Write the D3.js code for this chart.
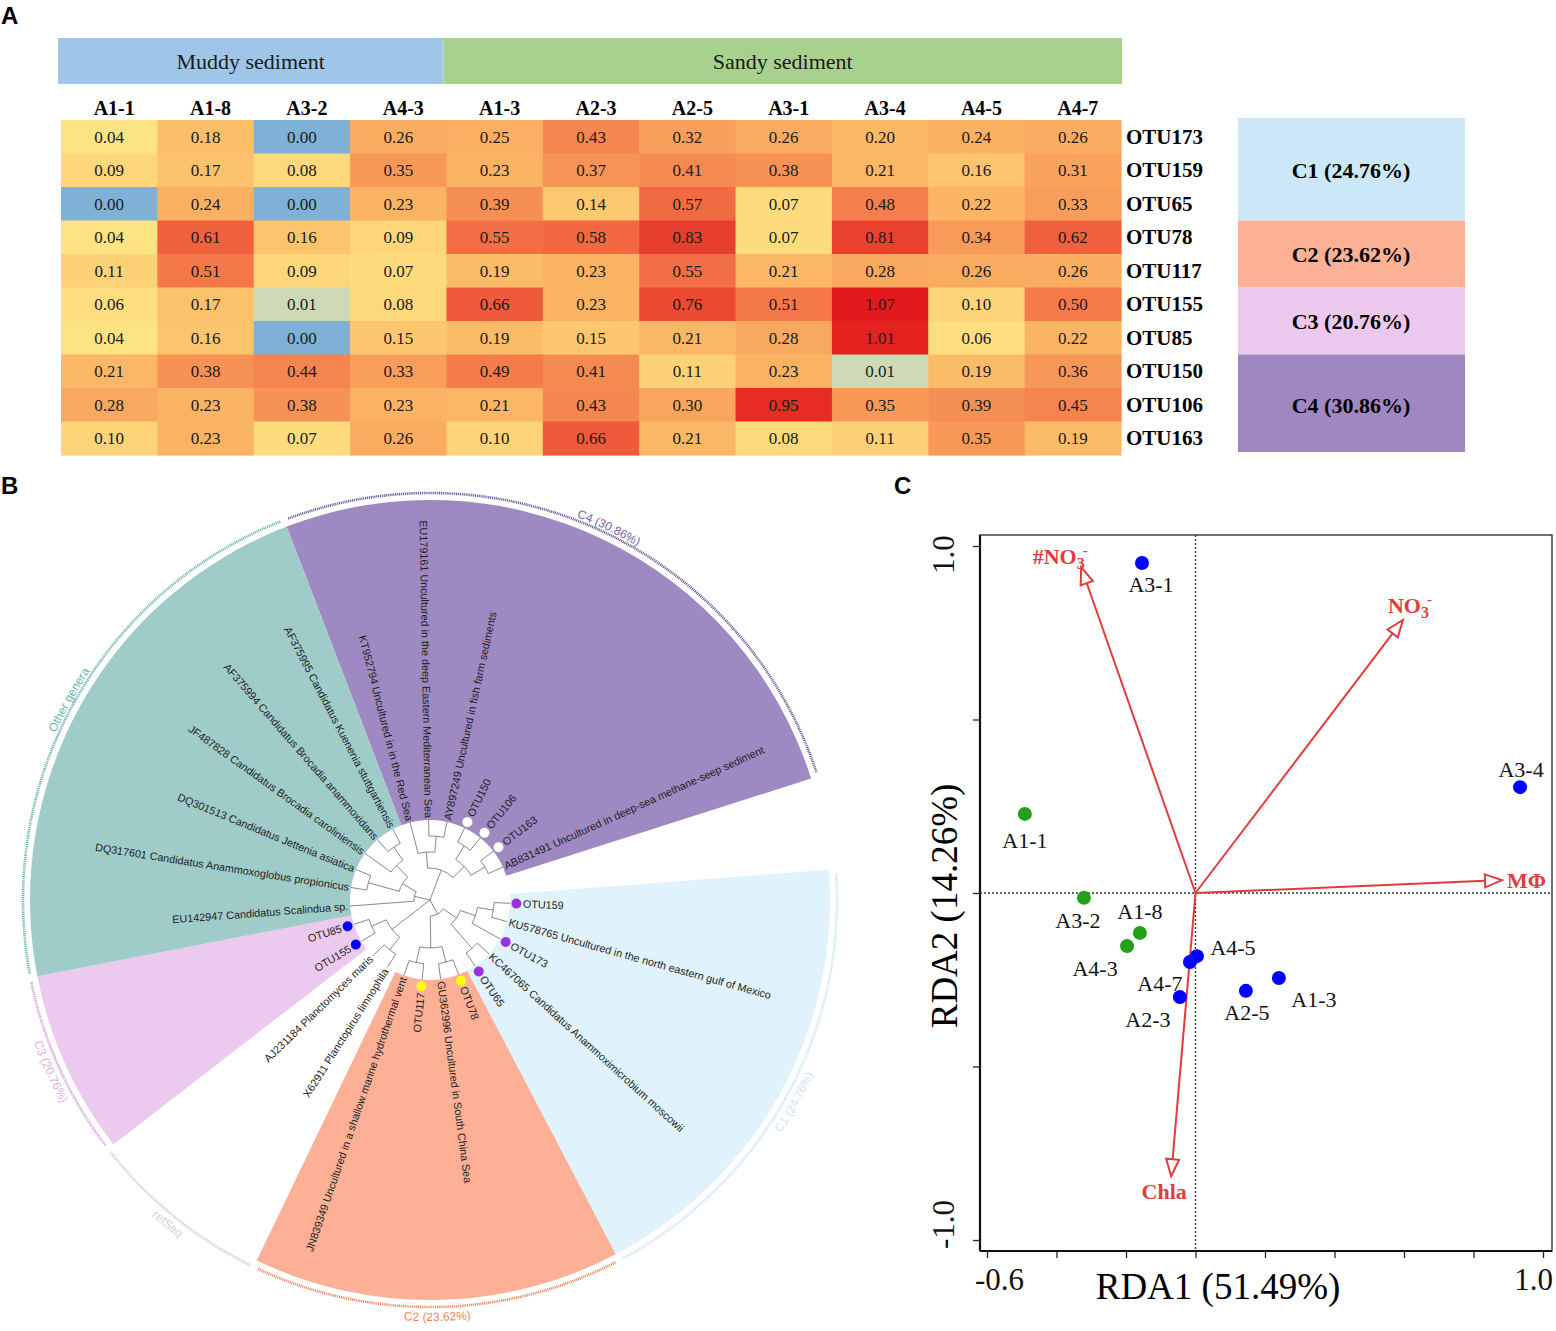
<!DOCTYPE html>
<html>
<head>
<meta charset="utf-8">
<script src="https://cdn.jsdelivr.net/npm/d3@7"></script>
<style>
  body { margin: 0; background: #fff; }
  svg { display: block; }
</style>
</head>
<body>
<svg id="fig" width="1556" height="1331"></svg>
<script>
// ---------- panel A : heatmap ----------
let muddy = ["A1-1", "A1-8", "A3-2", "A4-3"];
let sandy = ["A1-3", "A2-3", "A2-5", "A3-1", "A3-4", "A4-5", "A4-7"];
let samples = muddy.concat(sandy);
let otus = ["OTU173", "OTU159", "OTU65", "OTU78", "OTU117", "OTU155", "OTU85", "OTU150", "OTU106", "OTU163"];
let abundance = [
  [0.04, 0.18, 0.00, 0.26, 0.25, 0.43, 0.32, 0.26, 0.20, 0.24, 0.26],
  [0.09, 0.17, 0.08, 0.35, 0.23, 0.37, 0.41, 0.38, 0.21, 0.16, 0.31],
  [0.00, 0.24, 0.00, 0.23, 0.39, 0.14, 0.57, 0.07, 0.48, 0.22, 0.33],
  [0.04, 0.61, 0.16, 0.09, 0.55, 0.58, 0.83, 0.07, 0.81, 0.34, 0.62],
  [0.11, 0.51, 0.09, 0.07, 0.19, 0.23, 0.55, 0.21, 0.28, 0.26, 0.26],
  [0.06, 0.17, 0.01, 0.08, 0.66, 0.23, 0.76, 0.51, 1.07, 0.10, 0.50],
  [0.04, 0.16, 0.00, 0.15, 0.19, 0.15, 0.21, 0.28, 1.01, 0.06, 0.22],
  [0.21, 0.38, 0.44, 0.33, 0.49, 0.41, 0.11, 0.23, 0.01, 0.19, 0.36],
  [0.28, 0.23, 0.38, 0.23, 0.21, 0.43, 0.30, 0.95, 0.35, 0.39, 0.45],
  [0.10, 0.23, 0.07, 0.26, 0.10, 0.66, 0.21, 0.08, 0.11, 0.35, 0.19]
];
let otuCluster = ["C1", "C1", "C1", "C2", "C2", "C3", "C3", "C4", "C4", "C4"];
let clusterNames = ["C1", "C2", "C3", "C4"];
let clusterPct = ["24.76", "23.62", "20.76", "30.86"];

// ---------- panel B : tree ----------
let KT = "KT952794 Uncultured in in the Red Sea";
let EU1 = "EU179161 Uncultured in the deep Eastern Mediterranean Sea";
let AY = "AY897249 Uncultured in fish farm sediments";
let AB = "AB831491 Uncultured in deep-sea methane-seep sediment";
let KU = "KU578765 Uncultured in the north eastern gulf of Mexico";
let KC = "KC467065 Candidatus Anammoximicrobium moscowii";
let GU = "GU362996 Uncultured in South China Sea";
let JN = "JN839349 Uncultured in a shallow marine hydrothermal vent";
let X6 = "X62911 Planctopirus limnophila";
let AJ = "AJ231184 Planctomyces maris";
let EU2 = "EU142947 Candidatus Scalindua sp.";
let DQ1 = "DQ317601 Candidatus Anammoxoglobus propionicus";
let DQ2 = "DQ301513 Candidatus Jettenia asiatica";
let JF = "JF487828 Candidatus Brocadia caroliniensis";
let AF4 = "AF375994 Candidatus Brocadia anammoxidans";
let AF5 = "AF375995 Candidatus Kuenenia stuttgartiensis";

let tree = [
  [[KT, [EU1, AY]], [["OTU150", "OTU106"], ["OTU163", AB]]],
  [[[["OTU159", KU], "OTU173"], [KC, "OTU65"]], [["OTU78", GU], ["OTU117", JN]]],
  [[X6, AJ], ["OTU155", "OTU85"]],
  [EU2, [[DQ1, DQ2], [JF, [AF4, AF5]]]]
];
let gapBetween = ["AB831491", "OTU159"];

let groupNames = ["C4 (30.86%)", "C1 (24.76%)", "C2 (23.62%)", "refSeq", "C3 (20.76%)", "Other genera"];
let groupMembers = [
  ["KT952794", "EU179161", "AY897249", "OTU150", "OTU106", "OTU163", "AB831491"],
  ["OTU159", "KU578765", "OTU173", "KC467065", "OTU65"],
  ["OTU78", "GU362996", "OTU117", "JN839349"],
  ["X62911", "AJ231184"],
  ["OTU155", "OTU85"],
  ["EU142947", "DQ317601", "DQ301513", "JF487828", "AF375994", "AF375995"]
];
let otuDot = {
  OTU150: "#ffffff", OTU106: "#ffffff", OTU163: "#ffffff",
  OTU159: "#9b30e3", OTU173: "#9b30e3", OTU65: "#9b30e3",
  OTU78: "#ffff00", OTU117: "#ffff00",
  OTU85: "#0000ff", OTU155: "#0000ff"
};

// ---------- panel C : RDA ----------
let sites = ["A1-1", "A1-8", "A3-2", "A4-3", "A1-3", "A2-3", "A2-5", "A3-1", "A3-4", "A4-5", "A4-7"];
let rda1 = [-0.491, -0.160, -0.321, -0.197, 0.240, -0.045, 0.145, -0.154, 0.934, 0.004, -0.016];
let rda2 = [0.228, -0.115, -0.014, -0.153, -0.245, -0.300, -0.282, 0.951, 0.305, -0.182, -0.199];
let envVars = ["#NO3-", "NO3-", "MΦ", "Chla"];
let envX = [-0.329, 0.597, 0.882, -0.070];
let envY = [0.939, 0.787, 0.037, -0.816];
let xTicks = [-0.6, -0.4, -0.2, 0, 0.2, 0.4, 0.6, 0.8, 1.0];
let yTicks = [-1.0, -0.5, 0, 0.5, 1.0];

const serif = '"Liberation Serif","Times New Roman",serif';
const sans = '"Liberation Sans",Arial,sans-serif';
const svg = d3.select("#fig");

// panel letters
svg.selectAll("text.letter").data([["A", 1, 24], ["B", 1, 494], ["C", 894, 494]]).join("text")
  .attr("class", "letter")
  .attr("x", d => d[1]).attr("y", d => d[2])
  .attr("font-family", sans).attr("font-weight", "bold").attr("font-size", 24)
  .text(d => d[0]);

// ================= A =================
function drawHeatmap() {
  let gA = svg.append("g");
  let x = d3.scaleBand().domain(samples).range([61, 1121]);
  let y = d3.scaleBand().domain(otus).range([120, 455]);
  let color = d3.scaleLinear()
    .domain([0, 0.01, 0.04, 0.1, 0.2, 0.3, 0.4, 0.5, 0.6, 0.8, 1.07])
    .range(["#7fb0d6", "#cddab5", "#fee383", "#fdd477", "#fbb966", "#f9a55d", "#f68d53", "#f47a4a", "#f0643f", "#e9432f", "#e31a1c"])
    .clamp(true);

  // habitat header
  let heads = [
    {name: "Muddy sediment", x0: x(muddy[0]) - 3, x1: x(sandy[0]) - 3, fill: "#9fc5e8"},
    {name: "Sandy sediment", x0: x(sandy[0]) - 3, x1: x(sandy[sandy.length - 1]) + x.bandwidth() + 1, fill: "#a9d18e"}
  ];
  gA.selectAll("rect.head").data(heads).join("rect")
    .attr("x", d => d.x0).attr("y", 38).attr("width", d => d.x1 - d.x0).attr("height", 46)
    .attr("fill", d => d.fill);
  gA.selectAll("text.head").data(heads).join("text")
    .attr("x", d => (d.x0 + d.x1) / 2).attr("y", 69)
    .attr("text-anchor", "middle").attr("font-family", serif).attr("font-size", 22).attr("fill", "#1a1a1a")
    .text(d => d.name);

  // column labels
  gA.selectAll("text.col").data(samples).join("text")
    .attr("x", d => x(d) + x.bandwidth() / 2 + 5).attr("y", 115)
    .attr("text-anchor", "middle").attr("font-family", serif).attr("font-weight", "bold").attr("font-size", 20)
    .text(d => d);

  let cells = [];
  otus.forEach((o, i) => samples.forEach((s, j) => cells.push({otu: o, sample: s, v: abundance[i][j]})));
  gA.selectAll("rect.cell").data(cells).join("rect")
    .attr("x", d => x(d.sample)).attr("y", d => y(d.otu))
    .attr("width", x.bandwidth() + 0.6).attr("height", y.bandwidth() + 0.6)
    .attr("fill", d => color(d.v));
  gA.selectAll("text.val").data(cells).join("text")
    .attr("x", d => x(d.sample) + x.bandwidth() / 2).attr("y", d => y(d.otu) + y.bandwidth() / 2 + 6)
    .attr("text-anchor", "middle").attr("font-family", serif).attr("font-size", 17).attr("fill", "#1a1a1a")
    .text(d => d.v.toFixed(2));

  // row labels
  gA.selectAll("text.row").data(otus).join("text")
    .attr("x", 1126).attr("y", d => y(d) + y.bandwidth() / 2 + 7)
    .attr("font-family", serif).attr("font-weight", "bold").attr("font-size", 21)
    .text(d => d);

  // cluster boxes
  let boxFill = {C1: "#cce8f8", C2: "#fcb195", C3: "#ecc8ef", C4: "#9f88c2"};
  let boxes = clusterNames.map((c, k) => {
    let rows = otus.filter((o, i) => otuCluster[i] === c);
    return {c: c, pct: clusterPct[k], y0: y(rows[0]), y1: y(rows[rows.length - 1]) + y.bandwidth()};
  });
  gA.selectAll("rect.box").data(boxes).join("rect")
    .attr("x", 1238).attr("width", 227)
    .attr("y", (d, i) => i === 0 ? d.y0 - 2 : d.y0).attr("height", (d, i) => d.y1 - d.y0 + (i === 0 ? 2 : 0) - (i === 3 ? 3 : 0))
    .attr("fill", d => boxFill[d.c]);
  gA.selectAll("text.box").data(boxes).join("text")
    .attr("x", 1351).attr("y", d => (d.y0 + d.y1) / 2 + 8)
    .attr("text-anchor", "middle").attr("font-family", serif).attr("font-weight", "bold").attr("font-size", 22)
    .text(d => d.c + " (" + d.pct + "%)");
}

// ================= B =================
function drawTree() {
  const cx = 430, cy = 900, rTip = 80, rOut = 400, rRing = 407, rotate = -21;
  let gB = svg.append("g").attr("transform", "translate(" + cx + "," + cy + ")");
  let id = s => s.split(" ")[0];

  let root = d3.hierarchy(tree, d => Array.isArray(d) ? d : null);
  d3.cluster().size([360, rTip])
    .separation((a, b) => {
      let pa = [id(a.data), id(b.data)];
      return (pa.includes(gapBetween[0]) && pa.includes(gapBetween[1])) ? 2 : 1;
    })(root);
  let leaves = root.leaves();
  let unit = leaves[1].x - leaves[0].x;
  let ang = v => v + rotate;
  let rad = a => a * Math.PI / 180;
  let pt = (a, r) => [r * Math.sin(rad(a)), -r * Math.cos(rad(a))];

  let fills = {"C4 (30.86%)": "#9f89c2", "C1 (24.76%)": "#e0f2fc", "C2 (23.62%)": "#fdb096",
    "refSeq": "none", "C3 (20.76%)": "#ecc9ee", "Other genera": "#9fcbc9"};
  let ringCol = {"C4 (30.86%)": "#5f4e96", "C1 (24.76%)": "#c9e3f5", "C2 (23.62%)": "#ef7e50",
    "refSeq": "#cccccc", "C3 (20.76%)": "#d69ad8", "Other genera": "#62aea8"};
  let textCol = {"C4 (30.86%)": "#7461a8", "C1 (24.76%)": "#cde5f4", "C2 (23.62%)": "#f0845a",
    "refSeq": "#d2d2d2", "C3 (20.76%)": "#dfaee0", "Other genera": "#6cb5af"};

  let groups = groupNames.map((g, k) => {
    let xs = leaves.filter(l => groupMembers[k].includes(id(l.data))).map(l => l.x);
    return {name: g, a0: ang(d3.min(xs) - unit / 2), a1: ang(d3.max(xs) + unit / 2)};
  });

  // sectors
  let arc = d3.arc();
  gB.selectAll("path.sector").data(groups.filter(g => fills[g.name] !== "none")).join("path")
    .attr("d", g => arc({innerRadius: rTip, outerRadius: rOut, startAngle: rad(g.a0), endAngle: rad(g.a1)}))
    .attr("fill", g => fills[g.name]);

  // outer dotted ring
  gB.selectAll("path.ring").data(groups).join("path")
    .attr("d", g => {
      let p0 = pt(g.a0 + 0.6, rRing), p1 = pt(g.a1 - 0.6, rRing);
      return "M" + p0 + "A" + rRing + "," + rRing + " 0 0 1 " + p1;
    })
    .attr("fill", "none").attr("stroke", g => ringCol[g.name])
    .attr("stroke-width", 2.6).attr("stroke-dasharray", "1,0.9");

  // ring labels
  groups.forEach((g, k) => {
    let m = (g.a0 + g.a1) / 2;
    let top = Math.cos(rad(m)) > 0;
    let r = top ? 410 : 421;
    let [x0, y0] = pt(top ? m - 60 : m + 60, r);
    let [x1, y1] = pt(top ? m + 60 : m - 60, r);
    gB.append("path").attr("id", "rl" + k).attr("fill", "none")
      .attr("d", "M" + x0 + "," + y0 + "A" + r + "," + r + " 0 0 " + (top ? 1 : 0) + " " + x1 + "," + y1);
    gB.append("text").attr("font-family", sans).attr("font-size", 12).attr("fill", textCol[g.name])
      .append("textPath").attr("href", "#rl" + k).attr("startOffset", "50%").attr("text-anchor", "middle")
      .text(g.name);
  });

  // branches (step style)
  gB.selectAll("path.link").data(root.links()).join("path")
    .attr("fill", "none").attr("stroke", "#7a7a7a").attr("stroke-width", 0.9)
    .attr("d", d => {
      let pa = ang(d.source.x), ca = ang(d.target.x), r0 = d.source.y, r1 = d.target.y;
      let p0 = pt(pa, r0), p1 = pt(ca, r0), p2 = pt(ca, r1);
      return "M" + p0 + "A" + r0 + "," + r0 + " 0 0 " + (ca > pa ? 1 : 0) + " " + p1 + "L" + p2;
    });

  // leaves
  let lg = gB.selectAll("g.leaf").data(leaves).join("g")
    .attr("transform", d => "rotate(" + (ang(d.x) - 90) + ") translate(" + rTip + ",0)");
  lg.filter(d => otuDot[d.data]).append("circle")
    .attr("cx", 6.5).attr("r", 5).attr("fill", d => otuDot[d.data]);
  lg.append("text")
    .each(function (d) {
      let a = ((ang(d.x) % 360) + 360) % 360;
      let flip = a > 180;
      let off = otuDot[d.data] ? 13 : 2;
      d3.select(this)
        .attr("x", flip ? -off : off)
        .attr("transform", flip ? "rotate(180)" : null)
        .attr("text-anchor", flip ? "end" : "start");
    })
    .attr("dy", "0.35em").attr("font-family", sans).attr("font-size", 10.8).attr("fill", "#1e1e1e")
    .text(d => d.data);
}

// ================= C =================
function drawRDA() {
  let gC = svg.append("g");
  let frame = {l: 980, r: 1552, t: 535, b: 1251};
  let x = d3.scaleLinear().domain([-0.6, 1.0]).range([987, 1543]);
  let y = d3.scaleLinear().domain([-1, 1]).range([1240, 546]);
  let red = "#e23b3b";

  gC.append("rect").attr("x", frame.l).attr("y", frame.t)
    .attr("width", frame.r - frame.l).attr("height", frame.b - frame.t)
    .attr("fill", "none").attr("stroke", "#333").attr("stroke-width", 1.4);

  // axes
  let xAxis = d3.axisBottom(x).tickValues(xTicks).tickSize(7).tickPadding(10)
    .tickFormat(d => (d === xTicks[0] || d === xTicks[xTicks.length - 1]) ? d.toFixed(1) : "");
  let gx = gC.append("g").attr("transform", "translate(0," + frame.b + ")").call(xAxis);
  gx.select(".domain").remove();
  gx.selectAll("line").attr("stroke", "#222").attr("stroke-width", 1.3);
  gx.selectAll("text").attr("font-family", serif).attr("font-size", 31).attr("fill", "#111")
    .attr("x", d => d === xTicks[0] ? 12 : (d === xTicks[xTicks.length - 1] ? -10 : 0));

  let yAxis = d3.axisLeft(y).tickValues(yTicks).tickSize(7)
    .tickFormat(d => (d === yTicks[0] || d === yTicks[yTicks.length - 1]) ? d.toFixed(1) : "");
  let gy = gC.append("g").attr("transform", "translate(" + frame.l + ",0)").call(yAxis);
  gy.select(".domain").remove();
  gy.selectAll("line").attr("stroke", "#222").attr("stroke-width", 1.3);
  gy.selectAll("text")
    .attr("font-family", serif).attr("font-size", 31).attr("fill", "#111")
    .attr("x", null).attr("dy", null).attr("text-anchor", "middle")
    .attr("transform", d => "translate(-26," + (d === yTicks[0] ? -16 : (d === yTicks[yTicks.length - 1] ? 8 : 0)) + ") rotate(-90)");

  gC.append("line").attr("x1", frame.l).attr("x2", frame.l).attr("y1", frame.t).attr("y2", frame.b)
    .attr("stroke", "#111").attr("stroke-width", 2.2);
  gC.append("line").attr("x1", frame.l).attr("x2", frame.r).attr("y1", frame.b).attr("y2", frame.b)
    .attr("stroke", "#111").attr("stroke-width", 2.2);

  // titles
  gC.append("text").attr("x", 1218).attr("y", 1299).attr("text-anchor", "middle")
    .attr("font-family", serif).attr("font-size", 37).text("RDA1 (51.49%)");
  gC.append("text").attr("transform", "translate(957,906) rotate(-90)").attr("text-anchor", "middle")
    .attr("font-family", serif).attr("font-size", 37).text("RDA2 (14.26%)");

  // zero lines
  gC.append("line").attr("x1", x(0)).attr("x2", x(0)).attr("y1", frame.t).attr("y2", frame.b)
    .attr("stroke", "#333").attr("stroke-width", 1.4).attr("stroke-dasharray", "2,2");
  gC.append("line").attr("x1", frame.l).attr("x2", frame.r).attr("y1", y(0)).attr("y2", y(0))
    .attr("stroke", "#333").attr("stroke-width", 1.4).attr("stroke-dasharray", "2,2");

  // env arrows
  let env = envVars.map((n, i) => ({name: n, vx: envX[i], vy: envY[i]}));
  let arrowHead = d => {
    let x0 = x(0), y0 = y(0), x1 = x(d.vx), y1 = y(d.vy);
    let len = Math.hypot(x1 - x0, y1 - y0), ux = (x1 - x0) / len, uy = (y1 - y0) / len;
    let bx = x1 - ux * 17, by = y1 - uy * 17;
    return {bx: bx, by: by, p: [[x1, y1], [bx - uy * 6.5, by + ux * 6.5], [bx + uy * 6.5, by - ux * 6.5]]};
  };
  gC.selectAll("line.env").data(env).join("line")
    .attr("x1", x(0)).attr("y1", y(0))
    .attr("x2", d => arrowHead(d).bx).attr("y2", d => arrowHead(d).by)
    .attr("stroke", red).attr("stroke-width", 2);
  gC.selectAll("polygon.env").data(env).join("polygon")
    .attr("points", d => arrowHead(d).p.map(p => p.join(",")).join(" "))
    .attr("fill", "#fff").attr("stroke", red).attr("stroke-width", 2);

  let envLab = {"#NO3-": [-21, -3, "middle"], "NO3-": [7, -7, "middle"], "MΦ": [5, 8, "start"], "Chla": [-7, 23, "middle"]};
  env.forEach(d => {
    let o = envLab[d.name];
    let t = gC.append("text").attr("x", x(d.vx) + o[0]).attr("y", y(d.vy) + o[1])
      .attr("text-anchor", o[2]).attr("font-family", serif).attr("font-weight", "bold")
      .attr("font-size", 22).attr("fill", red);
    if (d.name.indexOf("NO3") >= 0) {
      t.append("tspan").text(d.name.replace("3-", ""));
      t.append("tspan").attr("font-size", 16).attr("dy", 5).text("3");
      t.append("tspan").attr("font-size", 15).attr("dy", -14).attr("dx", -2).text("-");
    } else {
      t.text(d.name);
    }
  });

  // sites
  let pts = sites.map((s, i) => ({site: s, vx: rda1[i], vy: rda2[i], muddy: muddy.includes(s)}));
  gC.selectAll("circle.site").data(pts).join("circle")
    .attr("cx", d => x(d.vx)).attr("cy", d => y(d.vy)).attr("r", 7)
    .attr("fill", d => d.muddy ? "#22a01c" : "#0000ff");
  let siteLab = {"A1-1": [0, 34], "A1-8": [0, -14], "A3-2": [-6, 30], "A4-3": [-32, 30], "A1-3": [35, 29],
    "A2-3": [-32, 30], "A2-5": [1, 29], "A3-1": [9, 29], "A3-4": [1, -10], "A4-5": [36, -1], "A4-7": [-30, 29]};
  gC.selectAll("text.site").data(pts).join("text")
    .attr("x", d => x(d.vx) + siteLab[d.site][0]).attr("y", d => y(d.vy) + siteLab[d.site][1])
    .attr("text-anchor", "middle").attr("font-family", serif).attr("font-size", 22).attr("fill", "#111")
    .text(d => d.site);
}

drawHeatmap();
drawTree();
drawRDA();
</script>
</body>
</html>
